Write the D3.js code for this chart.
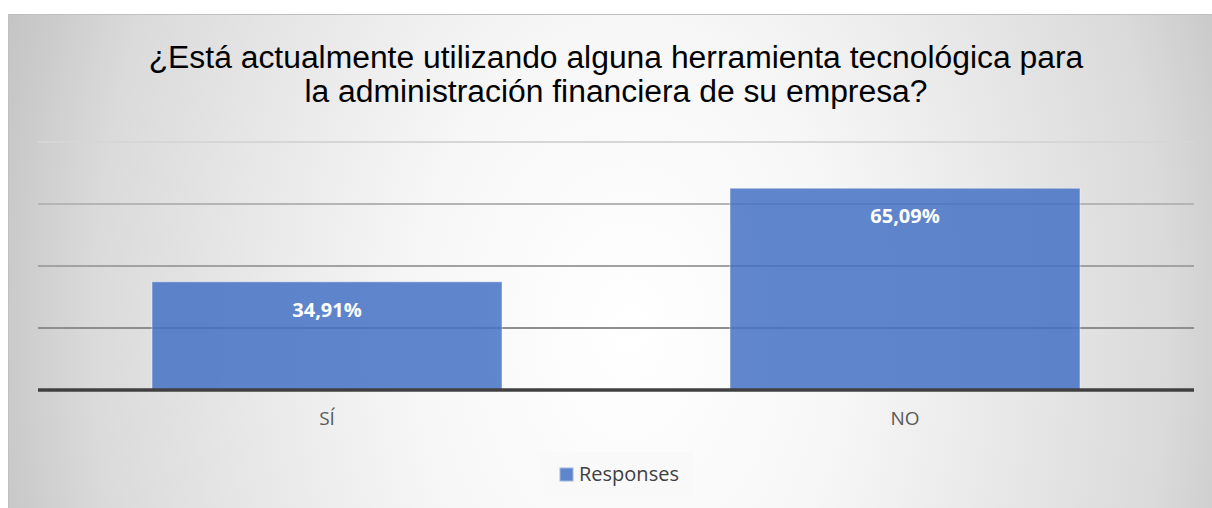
<!DOCTYPE html>
<html>
<head>
<meta charset="utf-8">
<script src="https://cdn.jsdelivr.net/npm/d3@7"></script>
<style>
  html, body { margin: 0; padding: 0; background: #fff; }
  svg { display: block; }
</style>
</head>
<body>
<svg id="chart"></svg>
<script>
const w = 1212;
const h = 508;

// data
const titleLines = [
  "¿Está actualmente utilizando alguna herramienta tecnológica para",
  "la administración financiera de su empresa?"
];
const categories = ["SÍ", "NO"];
const responses = [34.91, 65.09];
const gridTicks = [20, 40, 60, 80];
const seriesName = "Responses";

const plot = { left: 38, right: 1194, top: 142, bottom: 390 };

const svg = d3.select("#chart")
              .attr("width", w)
              .attr("height", h);

// background gradient
const defs = svg.append("defs");
const grad = defs.append("radialGradient")
                 .attr("id", "bg")
                 .attr("gradientUnits", "userSpaceOnUse")
                 .attr("cx", 0).attr("cy", 0).attr("r", 1)
                 .attr("gradientTransform", "translate(630,330) scale(700,1000)");
[[0, "#ffffff"], [0.3, "#f7f7f7"], [0.45, "#eeeeee"], [0.77, "#dadada"], [0.9, "#c9c9c9"], [1, "#bebebe"]]
  .forEach(s => grad.append("stop").attr("offset", s[0]).attr("stop-color", s[1]));

svg.append("rect")
   .attr("x", 8.5).attr("y", 14.5)
   .attr("width", w + 10).attr("height", h)
   .attr("fill", "url(#bg)")
   .attr("stroke", "#c0c0c0")
   .attr("stroke-width", 1);

// scales
const xScale = d3.scaleBand()
                 .domain(categories)
                 .range([plot.left, plot.right])
                 .paddingInner(0.3945)
                 .paddingOuter(0.3945 / 2);

const yScale = d3.scaleLinear()
                 .domain([0, 80])
                 .range([plot.bottom, plot.top]);

// gridlines
const gridColors = { 20: "#8e8e8e", 40: "#a2a2a2", 60: "#b5b5b5", 80: "#d6d6d6" };
svg.append("g")
   .selectAll("line")
   .data(gridTicks)
   .enter()
   .append("line")
   .attr("x1", plot.left).attr("x2", plot.right)
   .attr("y1", d => yScale(d)).attr("y2", d => yScale(d))
   .attr("stroke", d => gridColors[d])
   .attr("stroke-width", 2);

// bars
const fmt = d3.formatLocale({ decimal: ",", thousands: ".", grouping: [3], currency: ["", "€"] }).format(".2f");

svg.append("g")
   .selectAll("rect")
   .data(responses)
   .enter()
   .append("rect")
   .attr("x", (d, i) => xScale(categories[i]))
   .attr("y", d => yScale(d))
   .attr("width", xScale.bandwidth())
   .attr("height", d => yScale(0) - yScale(d))
   .attr("fill", "#4472c4")
   .attr("fill-opacity", 0.85)
   .attr("stroke", "#ffffff")
   .attr("stroke-opacity", 0.45)
   .attr("stroke-width", 1);

svg.append("g")
   .selectAll("text")
   .data(responses)
   .enter()
   .append("text")
   .attr("x", (d, i) => xScale(categories[i]) + xScale.bandwidth() / 2)
   .attr("y", d => yScale(d) + 35)
   .attr("text-anchor", "middle")
   .attr("font-family", "'Open Sans', sans-serif")
   .attr("font-weight", "bold")
   .attr("font-size", 20)
   .attr("fill", "#ffffff")
   .text(d => fmt(d) + "%");

// x axis
const xAxis = d3.axisBottom(xScale).tickSize(0).tickPadding(22);
const gx = svg.append("g")
              .attr("transform", `translate(0, ${plot.bottom})`)
              .call(xAxis);
gx.select(".domain").attr("stroke", "#404040").attr("stroke-width", 3.5)
  .attr("d", `M${plot.left},0H${plot.right}`);
gx.selectAll("text")
  .attr("font-family", "'Open Sans', sans-serif")
  .attr("font-size", 19)
  .attr("fill", "#595959")
  .attr("dy", "0.71em")
  .attr("y", 22);

// title
const title = svg.append("text")
                 .attr("text-anchor", "middle")
                 .attr("font-family", "'Liberation Sans', Arial, sans-serif")
                 .attr("font-size", 28)
                 .attr("fill", "#000000");
title.selectAll("tspan")
     .data(titleLines)
     .enter()
     .append("tspan")
     .attr("x", 616)
     .attr("y", (d, i) => 68 + i * 34)
     .text(d => d);
const len = title.select("tspan").node().getComputedTextLength();
title.attr("font-size", 28 * 935 / len);

// legend
const legend = svg.append("g").attr("transform", "translate(538, 452)");
legend.append("rect")
      .attr("width", 156).attr("height", 45)
      .attr("fill", "#f9f9f9");
legend.append("rect")
      .attr("x", 22).attr("y", 16)
      .attr("width", 13).attr("height", 13)
      .attr("fill", "#4472c4")
      .attr("fill-opacity", 0.85)
      .attr("stroke", "#9fb5de");
legend.append("text")
      .attr("x", 41).attr("y", 29)
      .attr("font-family", "'Open Sans', sans-serif")
      .attr("font-size", 20)
      .attr("fill", "#404040")
      .text(seriesName);
</script>
</body>
</html>
